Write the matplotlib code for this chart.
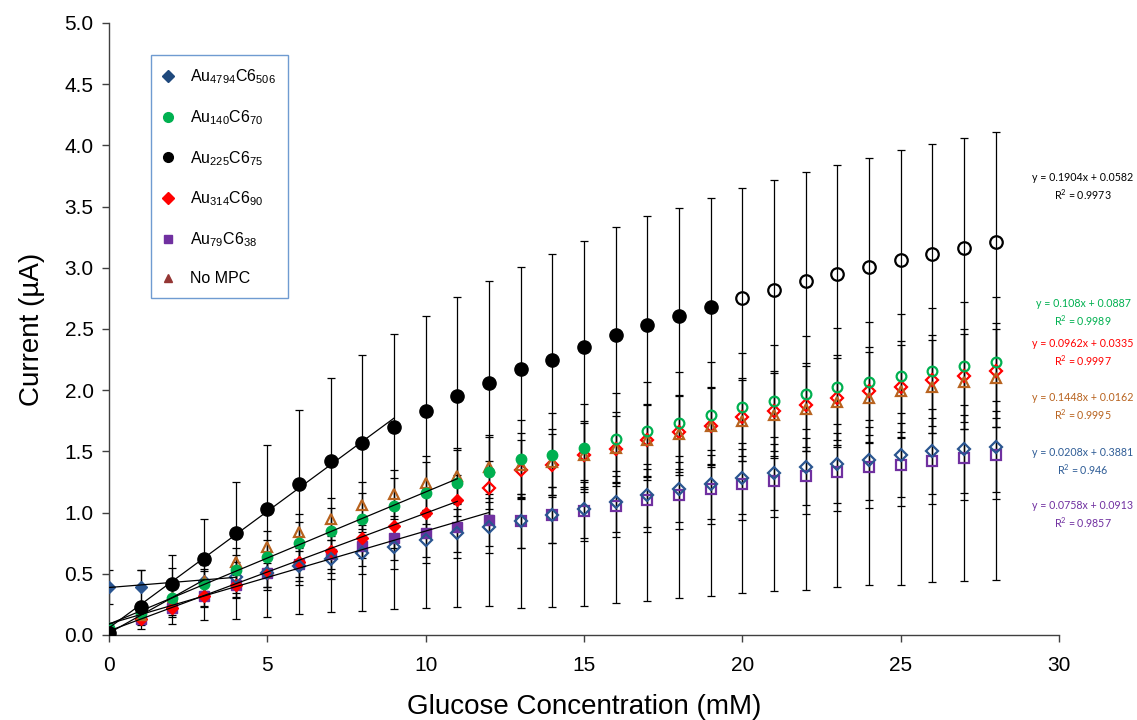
import numpy as np
import matplotlib
matplotlib.use("Agg")
import matplotlib.pyplot as plt
from matplotlib.lines import Line2D

plt.rcParams['font.family'] = ['Liberation Sans', 'DejaVu Sans']
plt.rcParams['mathtext.default'] = 'regular'

# glucose concentration (mM)
conc = np.arange(29)

# mean current (uA) for each electrode
au4794 = [0.39, 0.39, 0.42, 0.44, 0.47, 0.51, 0.56, 0.62, 0.67, 0.72, 0.78, 0.83, 0.88, 0.93, 0.98,
          1.03, 1.09, 1.14, 1.19, 1.23, 1.28, 1.32, 1.37, 1.40, 1.43, 1.47, 1.50, 1.52, 1.54]
au140 = [0.06, 0.18, 0.30, 0.42, 0.53, 0.64, 0.75, 0.85, 0.95, 1.05, 1.16, 1.24, 1.33, 1.44, 1.47,
         1.53, 1.60, 1.67, 1.73, 1.80, 1.86, 1.91, 1.97, 2.03, 2.07, 2.12, 2.16, 2.20, 2.23]
au225 = [0.02, 0.23, 0.42, 0.62, 0.83, 1.03, 1.23, 1.42, 1.57, 1.70, 1.83, 1.95, 2.06, 2.17, 2.25,
         2.35, 2.45, 2.53, 2.61, 2.68, 2.75, 2.82, 2.89, 2.95, 3.01, 3.06, 3.11, 3.16, 3.21]
au314 = [0.03, 0.13, 0.22, 0.32, 0.41, 0.51, 0.60, 0.69, 0.79, 0.89, 1.00, 1.10, 1.20, 1.35, 1.39,
         1.47, 1.52, 1.59, 1.66, 1.71, 1.78, 1.83, 1.88, 1.94, 1.99, 2.03, 2.08, 2.12, 2.16]
au79 = [0.02, 0.13, 0.22, 0.32, 0.41, 0.51, 0.58, 0.66, 0.73, 0.79, 0.83, 0.88, 0.94, 0.93, 0.98,
        1.01, 1.05, 1.10, 1.14, 1.19, 1.23, 1.26, 1.30, 1.33, 1.37, 1.39, 1.42, 1.45, 1.47]
no_mpc = [0.01, 0.16, 0.31, 0.45, 0.60, 0.72, 0.84, 0.95, 1.06, 1.15, 1.24, 1.30, 1.37, 1.39, 1.41,
          1.47, 1.53, 1.59, 1.64, 1.71, 1.75, 1.80, 1.85, 1.90, 1.94, 1.99, 2.03, 2.07, 2.10]

# error bars
au4794_err = [0.14, 0.14, 0.13, 0.13, 0.13, 0.14, 0.15, 0.16, 0.17, 0.18, 0.19, 0.20, 0.21, 0.22, 0.23,
              0.24, 0.25, 0.26, 0.27, 0.28, 0.29, 0.30, 0.31, 0.32, 0.33, 0.34, 0.35, 0.36, 0.37]
au140_err = [0.03, 0.06, 0.08, 0.10, 0.12, 0.14, 0.17, 0.19, 0.21, 0.23, 0.25, 0.27, 0.30, 0.32, 0.34,
             0.36, 0.38, 0.40, 0.42, 0.43, 0.44, 0.46, 0.47, 0.48, 0.49, 0.50, 0.51, 0.52, 0.53]
au225_err_lo = [0.02, 0.18, 0.33, 0.50, 0.70, 0.88, 1.06, 1.23, 1.37, 1.49, 1.61, 1.72, 1.82, 1.95, 2.02,
                2.11, 2.19, 2.25, 2.31, 2.36, 2.41, 2.46, 2.52, 2.56, 2.60, 2.65, 2.68, 2.72, 2.76]
au225_err_hi = [0.08, 0.30, 0.23, 0.33, 0.42, 0.52, 0.61, 0.68, 0.72, 0.76, 0.78, 0.81, 0.83, 0.84, 0.86,
                0.87, 0.88, 0.89, 0.88, 0.89, 0.90, 0.90, 0.89, 0.89, 0.89, 0.90, 0.90, 0.90, 0.90]
au314_err = [0.02, 0.04, 0.06, 0.08, 0.10, 0.12, 0.13, 0.15, 0.16, 0.18, 0.19, 0.21, 0.22, 0.24, 0.25,
             0.26, 0.27, 0.29, 0.30, 0.31, 0.32, 0.33, 0.34, 0.35, 0.36, 0.37, 0.37, 0.38, 0.39]
au79_err = [0.02, 0.05, 0.07, 0.09, 0.11, 0.12, 0.14, 0.15, 0.17, 0.18, 0.19, 0.20, 0.21, 0.22, 0.23,
            0.24, 0.25, 0.26, 0.27, 0.28, 0.29, 0.30, 0.31, 0.32, 0.33, 0.34, 0.35, 0.35, 0.36]
no_mpc_err = [0.02, 0.05, 0.07, 0.09, 0.11, 0.13, 0.15, 0.17, 0.19, 0.20, 0.22, 0.23, 0.25, 0.26, 0.27,
              0.28, 0.29, 0.30, 0.31, 0.32, 0.33, 0.34, 0.35, 0.36, 0.37, 0.38, 0.38, 0.39, 0.40]

# linear fits: slope, intercept, R^2, last point of the fitted range
fit_slope = [0.0208, 0.108, 0.1904, 0.0962, 0.0758, 0.1448]
fit_icpt = [0.3881, 0.0887, 0.0582, 0.0335, 0.0913, 0.0162]
fit_r2 = ['0.946', '0.9989', '0.9973', '0.9997', '0.9857', '0.9995']
fit_end = [4, 11, 9, 11, 12, 3]
# number of points drawn filled (rest hollow)
n_filled = [4, 16, 20, 12, 13, 4]

labels = ['Au$_{4794}$C6$_{506}$', 'Au$_{140}$C6$_{70}$', 'Au$_{225}$C6$_{75}$',
          'Au$_{314}$C6$_{90}$', 'Au$_{79}$C6$_{38}$', 'No MPC']
colors = ['#2A5590', '#00B050', '#000000', '#FF0000', '#7030A0', '#B8631F']
legend_colors = ['#1F497D', '#00B050', '#000000', '#FF0000', '#7030A0', '#943634']
eq_colors = ['#2E5C96', '#00B050', '#000000', '#FF0000', '#7030A0', '#B8631F']
markers = ['D', 'o', 'o', 'D', 's', '^']
msizes = [6.5, 7.5, 9.5, 6.5, 7, 7.5]
zorders = [5, 6, 7, 4, 3, 5.5]

values = [au4794, au140, au225, au314, au79, no_mpc]
errs = [au4794_err, au140_err, [au225_err_lo, au225_err_hi], au314_err, au79_err, no_mpc_err]

fig = plt.figure(figsize=(11.37, 7.2), dpi=100)
ax = fig.add_axes([109 / 1137, 1 - 635 / 720, 950 / 1137, 612 / 720])

for i, y in enumerate(values):
    y = np.asarray(y)
    ax.errorbar(conc, y, yerr=errs[i], fmt='none', ecolor='black', elinewidth=0.9,
                capsize=3, capthick=0.9, zorder=2)
    n = n_filled[i]
    ax.plot(conc[:n], y[:n], ls='none', marker=markers[i], ms=msizes[i],
            mfc=colors[i], mec=colors[i], zorder=zorders[i])
    ax.plot(conc[n:], y[n:], ls='none', marker=markers[i], ms=msizes[i] - 0.5,
            mfc='none', mec=colors[i], mew=1.6, zorder=zorders[i])
    xf = np.array([0, fit_end[i]])
    ax.plot(xf, fit_slope[i] * xf + fit_icpt[i], color='black', lw=0.9, zorder=8)

ax.set_xlim(0, 30)
ax.set_ylim(0, 5)
ax.set_xticks(np.arange(0, 31, 5))
ax.set_yticks(np.arange(0, 5.01, 0.5))
ax.set_yticklabels([f'{v:.1f}' for v in np.arange(0, 5.01, 0.5)])
for s in ['top', 'right']:
    ax.spines[s].set_visible(False)
for s in ['left', 'bottom']:
    ax.spines[s].set_color('#404040')
    ax.spines[s].set_linewidth(1)
ax.tick_params(direction='out', length=5, width=1, color='#404040', labelsize=15, pad=6)
ax.tick_params(axis='x', pad=10)
ax.set_xlabel('Glucose Concentration (mM)', fontsize=20, labelpad=14)
ax.set_ylabel('Current (µA)', fontsize=20, labelpad=14)

handles = [Line2D([], [], ls='none', marker=markers[i], ms=6 if markers[i] != 'o' else 7,
                  mfc=legend_colors[i], mec=legend_colors[i]) for i in range(6)]
leg = ax.legend(handles, labels, loc='upper left', bbox_to_anchor=(0.044, 0.947),
                fontsize=11.5, labelspacing=1.38, borderpad=0.75, handletextpad=1.1,
                handlelength=0.6, fancybox=False, framealpha=1, borderaxespad=0)
leg.get_frame().set_edgecolor('#6F9BD1')
leg.get_frame().set_linewidth(1)

# fit equations to the right of the plot
eq_y = [455, 306, 180, 346, 508, 400]
for i in range(6):
    txt = f'y = {fit_slope[i]}x + {fit_icpt[i]}\nR$^2$ = {fit_r2[i]}'
    fig.text(1083 / 1137, 1 - (eq_y[i] + 7) / 720, txt, ha='center', va='center',
             fontsize=7.7, color=eq_colors[i], family=['Lato', 'DejaVu Sans'],
             linespacing=1.4)

fig.savefig('out.png', dpi=100)
